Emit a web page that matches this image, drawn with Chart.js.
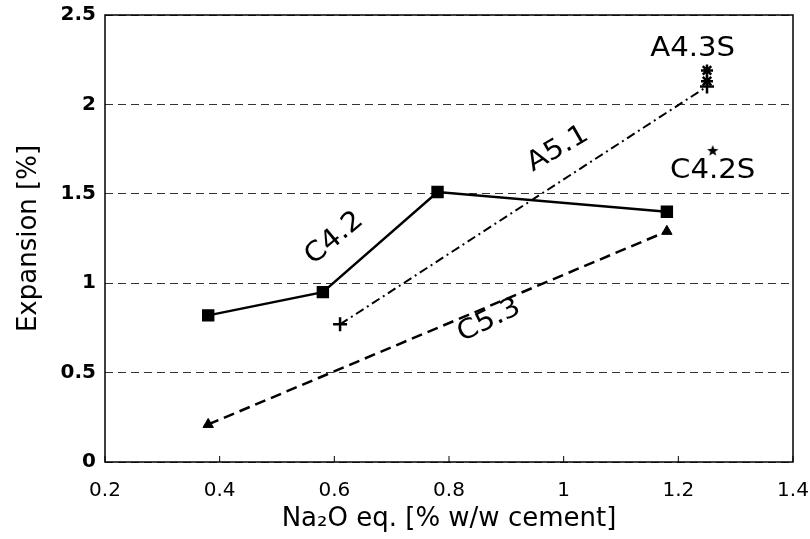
<!DOCTYPE html>
<html>
<head>
<meta charset="utf-8">
<script src="https://cdn.jsdelivr.net/npm/chart.js@4"></script>
<style>
  html, body { margin: 0; padding: 0; background: #fff; }
  #wrap { width: 810px; height: 539px; }
</style>
</head>
<body>
<div id="wrap"><canvas id="expChart" width="810" height="539"></canvas></div>
<script>
// data
const c42X = [0.38, 0.58, 0.78, 1.18];
const c42Y = [0.82, 0.95, 1.51, 1.40];
const a51X = [0.61, 1.25];
const a51Y = [0.77, 2.10];
const c53X = [0.38, 1.18];
const c53Y = [0.21, 1.29];
const a43sX = [1.25, 1.25];
const a43sY = [2.19, 2.13];
const c42sX = [1.26];
const c42sY = [1.74];

// in-plot labels (data coordinates, rotation in degrees)
const labelText = ['A4.3S', 'C4.2S', 'C4.2', 'A5.1', 'C5.3'];
const labelX = [1.225, 1.26, 0.6, 0.99, 0.87];
const labelY = [2.31, 1.63, 1.25, 1.75, 0.79];
const labelRot = [0, 0, -40, -30, -26];

const xTicks = [0.2, 0.4, 0.6, 0.8, 1, 1.2, 1.4];
const yTicks = [0, 0.5, 1, 1.5, 2, 2.5];

const fam = '"DejaVu Sans", "Liberation Sans", Arial, sans-serif';

function pts(xs, ys) {
    return xs.map((x, i) => ({ x: x, y: ys[i] }));
}

// small filled five-point star marker
function starMarker(r) {
    const c = document.createElement('canvas');
    c.width = c.height = r * 2 + 2;
    const g = c.getContext('2d');
    g.fillStyle = '#000';
    g.beginPath();
    for (let i = 0; i < 10; i++) {
        const rr = i % 2 === 0 ? r : r * 0.42;
        const a = -Math.PI / 2 + i * Math.PI / 5;
        g.lineTo(r + 1 + rr * Math.cos(a), r + 1 + rr * Math.sin(a));
    }
    g.closePath();
    g.fill();
    return c;
}

const frameAndLabels = {
    id: 'frameAndLabels',
    afterDraw(chart) {
        const ctx = chart.ctx;
        const a = chart.chartArea;
        const xs = chart.scales.x, ys = chart.scales.y;
        ctx.save();
        ctx.strokeStyle = '#000';
        ctx.lineWidth = 1.5;
        ctx.strokeRect(a.left, a.top, a.right - a.left, a.bottom - a.top);
        // small inward ticks on the x axis
        ctx.lineWidth = 1;
        xTicks.forEach(v => {
            const px = xs.getPixelForValue(v);
            ctx.beginPath();
            ctx.moveTo(px, a.bottom);
            ctx.lineTo(px, a.bottom - 6);
            ctx.stroke();
        });
        ctx.fillStyle = '#000';
        ctx.font = '27px ' + fam;
        ctx.textAlign = 'center';
        ctx.textBaseline = 'middle';
        labelText.forEach((t, i) => {
            ctx.save();
            ctx.translate(xs.getPixelForValue(labelX[i]), ys.getPixelForValue(labelY[i]));
            ctx.rotate(labelRot[i] * Math.PI / 180);
            ctx.scale(1.08, 1);
            ctx.fillText(t, 0, 0);
            ctx.restore();
        });
        ctx.restore();
    }
};

const expConfig = {
    type: 'scatter',
    data: {
        datasets: [
            {
                label: 'C4.2',
                data: pts(c42X, c42Y),
                showLine: true,
                borderColor: '#000',
                backgroundColor: '#000',
                borderWidth: 2.5,
                pointStyle: 'rect',
                pointRadius: 7,
                pointHoverRadius: 7
            },
            {
                label: 'A5.1',
                data: pts(a51X, a51Y),
                showLine: true,
                borderColor: '#000',
                backgroundColor: '#000',
                borderWidth: 2,
                borderDash: [9, 4, 2, 4],
                pointStyle: 'cross',
                pointRadius: 7,
                pointBorderWidth: 2.5
            },
            {
                label: 'C5.3',
                data: pts(c53X, c53Y),
                showLine: true,
                borderColor: '#000',
                backgroundColor: '#000',
                borderWidth: 2.5,
                borderDash: [11, 6],
                pointStyle: 'triangle',
                pointRadius: 6,
                pointBorderWidth: 1
            },
            {
                label: 'A4.3S',
                data: pts(a43sX, a43sY),
                showLine: false,
                borderColor: '#000',
                backgroundColor: '#000',
                pointStyle: 'star',
                pointRadius: 6,
                pointBorderWidth: 2.5
            },
            {
                label: 'C4.2S',
                data: pts(c42sX, c42sY),
                showLine: false,
                pointStyle: starMarker(6),
                pointRadius: 6
            }
        ]
    },
    plugins: [frameAndLabels],
    options: {
        responsive: false,
        animation: false,
        layout: { padding: { left: 14, right: 17, top: 15, bottom: 0 } },
        plugins: {
            legend: { display: false },
            tooltip: { enabled: false }
        },
        scales: {
            x: {
                type: 'linear',
                min: 0.2,
                max: 1.4,
                afterBuildTicks: s => { s.ticks = xTicks.map(v => ({ value: v })); },
                afterFit: s => { s.height = 77; s.paddingLeft = 0; s.paddingRight = 0; },
                grid: { display: false, drawTicks: false },
                border: { display: false },
                ticks: {
                    color: '#000',
                    padding: 17,
                    maxRotation: 0,
                    font: { family: fam, size: 20 },
                    callback: v => String(Math.round(v * 10) / 10)
                },
                title: {
                    display: true,
                    text: 'Na₂O eq. [% w/w cement]',
                    color: '#000',
                    padding: { top: 0, bottom: 4 },
                    font: { family: fam, size: 26 }
                }
            },
            y: {
                min: 0,
                max: 2.5,
                afterBuildTicks: s => { s.ticks = yTicks.map(v => ({ value: v })); },
                afterFit: s => { s.width = 91; s.paddingTop = 0; s.paddingBottom = 0; },
                grid: { color: '#333', lineWidth: 1, drawTicks: false },
                border: { display: false, dash: [8, 5] },
                ticks: {
                    color: '#000',
                    padding: 9,
                    font: { family: fam, size: 20, weight: 'bold' },
                    callback: v => String(v)
                },
                title: {
                    display: true,
                    text: 'Expansion [%]',
                    color: '#000',
                    padding: { top: 0, bottom: 0 },
                    font: { family: fam, size: 26 }
                }
            }
        }
    }
};

const expChart = new Chart(document.getElementById('expChart'), expConfig);
</script>
</body>
</html>
